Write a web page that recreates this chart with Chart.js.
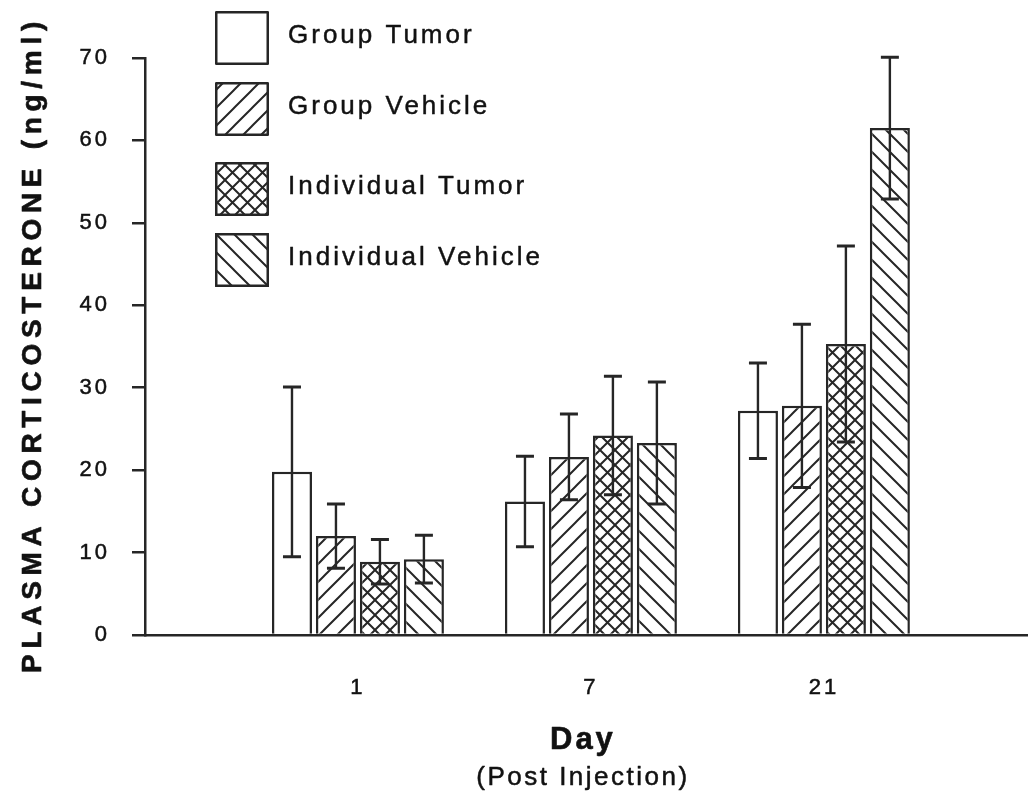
<!DOCTYPE html>
<html lang="en">
<head>
    <meta charset="UTF-8">
    <title>Plasma Corticosterone</title>
    <script src="https://cdn.jsdelivr.net/npm/chart.js"></script>
    <style>
        body { margin: 0; background: #fff; }
        #wrap { width: 1028px; height: 796px; }
    </style>
</head>
<body>
    <div id="wrap"><canvas id="cortChart"></canvas></div>

    <script>
        // values
        const days = ['1', '7', '21'];
        const dayPos = [1, 2, 3];
        const seriesNames = ['Group Tumor', 'Group Vehicle', 'Individual Tumor', 'Individual Vehicle'];
        const groupTumor = [19.8, 16.2, 27.2];
        const groupTumorErr = [10.3, 5.5, 5.8];
        const groupVehicle = [12.0, 21.6, 27.8];
        const groupVehicleErr = [3.9, 5.2, 9.9];
        const indivTumor = [8.9, 24.2, 35.3];
        const indivTumorErr = [2.7, 7.2, 11.9];
        const indivVehicle = [9.2, 23.3, 61.5];
        const indivVehicleErr = [2.9, 7.4, 8.6];
        const yTicks = [0, 10, 20, 30, 40, 50, 60, 70];

        const ink = '#262626';
        const textInk = '#111';

        function hatch(kind, s) {
            const c = document.createElement('canvas');
            c.width = s; c.height = s;
            const g = c.getContext('2d');
            g.fillStyle = '#fff';
            g.fillRect(0, 0, s, s);
            g.strokeStyle = ink;
            g.lineWidth = 2;
            g.beginPath();
            if (kind === 'fwd' || kind === 'cross') {
                g.moveTo(-2, s + 2); g.lineTo(s + 2, -2);
                g.moveTo(-2, 2); g.lineTo(2, -2);
                g.moveTo(s - 2, s + 2); g.lineTo(s + 2, s - 2);
            }
            if (kind === 'back' || kind === 'cross') {
                g.moveTo(-2, -2); g.lineTo(s + 2, s + 2);
                g.moveTo(s - 2, -2); g.lineTo(s + 2, 2);
                g.moveTo(-2, s - 2); g.lineTo(2, s + 2);
            }
            g.stroke();
            return g.createPattern(c, 'repeat');
        }

        const fills = ['#ffffff', hatch('fwd', 18), hatch('cross', 15), hatch('back', 18)];
        const allVals = [groupTumor, groupVehicle, indivTumor, indivVehicle];
        const allErrs = [groupTumorErr, groupVehicleErr, indivTumorErr, indivVehicleErr];

        const datasets = allVals.map((vals, k) => ({
            label: seriesNames[k],
            data: vals.map((v, i) => ({ x: dayPos[i], y: v })),
            errs: allErrs[k],
            backgroundColor: fills[k],
            borderColor: ink,
            borderWidth: 2.5,
            categoryPercentage: 0.755,
            barPercentage: 0.91
        }));

        const errorBars = {
            id: 'errorBars',
            afterDatasetsDraw(chart) {
                const ctx = chart.ctx;
                const y = chart.scales.y;
                ctx.save();
                ctx.strokeStyle = ink;
                chart.data.datasets.forEach((ds, k) => {
                    chart.getDatasetMeta(k).data.forEach((bar, i) => {
                        const v = ds.data[i].y, e = ds.errs[i];
                        const top = y.getPixelForValue(v + e);
                        const bot = y.getPixelForValue(v - e);
                        ctx.lineWidth = 2.4;
                        ctx.beginPath();
                        ctx.moveTo(bar.x, top); ctx.lineTo(bar.x, bot);
                        ctx.stroke();
                        ctx.lineWidth = 3;
                        ctx.beginPath();
                        ctx.moveTo(bar.x - 9, top); ctx.lineTo(bar.x + 9, top);
                        ctx.moveTo(bar.x - 9, bot); ctx.lineTo(bar.x + 9, bot);
                        ctx.stroke();
                    });
                });
                ctx.restore();
            }
        };

        // heavier text like the scanned figure
        function boldText(ctx, txt, x, y, w) {
            ctx.lineWidth = w;
            ctx.lineJoin = 'round';
            ctx.strokeStyle = textInk;
            ctx.strokeText(txt, x, y);
            ctx.fillText(txt, x, y);
        }

        // tick label spacing, then titles + legend drawn at the end
        const textBits = {
            id: 'textBits',
            beforeDraw(chart) {
                chart.ctx.letterSpacing = '3px';
            },
            afterDraw(chart) {
                const ctx = chart.ctx;
                const area = chart.chartArea;
                ctx.save();
                ctx.fillStyle = textInk;

                // y title
                ctx.save();
                ctx.translate(33, (area.top + area.bottom) / 2 - 2);
                ctx.rotate(-Math.PI / 2);
                ctx.font = 'bold 28px "Liberation Sans", Arial, sans-serif';
                ctx.letterSpacing = '5.7px';
                ctx.textAlign = 'center';
                ctx.textBaseline = 'middle';
                boldText(ctx, 'PLASMA CORTICOSTERONE (ng/ml)', 0, 0, 0.6);
                ctx.restore();

                // x titles
                const cx = chart.scales.x.getPixelForValue(2) - 8;
                ctx.textAlign = 'center';
                ctx.textBaseline = 'alphabetic';
                ctx.font = 'bold 31px "Liberation Sans", Arial, sans-serif';
                ctx.letterSpacing = '3px';
                boldText(ctx, 'Day', cx, 749, 0.6);
                ctx.font = '26px "Liberation Sans", Arial, sans-serif';
                ctx.letterSpacing = '2.5px';
                boldText(ctx, '(Post Injection)', cx, 785, 0.5);

                // legend
                const tops = [11, 82, 162, 233];
                ctx.textAlign = 'left';
                ctx.textBaseline = 'middle';
                ctx.font = '26px "Liberation Sans", Arial, sans-serif';
                ctx.letterSpacing = '3px';
                chart.data.datasets.forEach((ds, k) => {
                    const t = tops[k];
                    ctx.fillStyle = ds.backgroundColor;
                    ctx.fillRect(215, t, 54, 54);
                    ctx.strokeStyle = ink;
                    ctx.lineWidth = 2.5;
                    ctx.strokeRect(216.25, t + 1.25, 51.5, 51.5);
                    ctx.fillStyle = textInk;
                    boldText(ctx, ds.label, 288, t + 25, 0.45);
                });
                ctx.restore();
            }
        };

        const tickFont = { family: '"Liberation Sans", Arial, sans-serif', size: 22 };

        new Chart(document.getElementById('cortChart'), {
            type: 'bar',
            data: { datasets: datasets },
            options: {
                responsive: true,
                maintainAspectRatio: false,
                animation: false,
                layout: { padding: { top: 58, left: 0, right: 0, bottom: 0 } },
                plugins: {
                    legend: { display: false },
                    tooltip: { enabled: false }
                },
                scales: {
                    x: {
                        type: 'linear',
                        offset: false,
                        min: 0.086,
                        max: 3.876,
                        afterBuildTicks: s => { s.ticks = dayPos.map(v => ({ value: v })); },
                        afterFit: s => { s.height = 161; },
                        grid: { display: false, drawTicks: false },
                        border: { display: true, color: ink, width: 2.5 },
                        ticks: {
                            padding: 40,
                            color: textInk,
                            textStrokeColor: textInk,
                            textStrokeWidth: 0.5,
                            font: tickFont,
                            callback: v => days[dayPos.indexOf(v)]
                        }
                    },
                    y: {
                        min: 0,
                        max: 70,
                        afterBuildTicks: s => { s.ticks = yTicks.map(v => ({ value: v })); },
                        afterFit: s => { s.width = 145; },
                        grid: { drawOnChartArea: false, tickLength: 13, color: ink, lineWidth: 2.5 },
                        border: { display: true, color: ink, width: 2.5 },
                        ticks: {
                            padding: 22,
                            color: textInk,
                            textStrokeColor: textInk,
                            textStrokeWidth: 0.5,
                            font: tickFont
                        }
                    }
                }
            },
            plugins: [errorBars, textBits]
        });
    </script>
</body>
</html>
